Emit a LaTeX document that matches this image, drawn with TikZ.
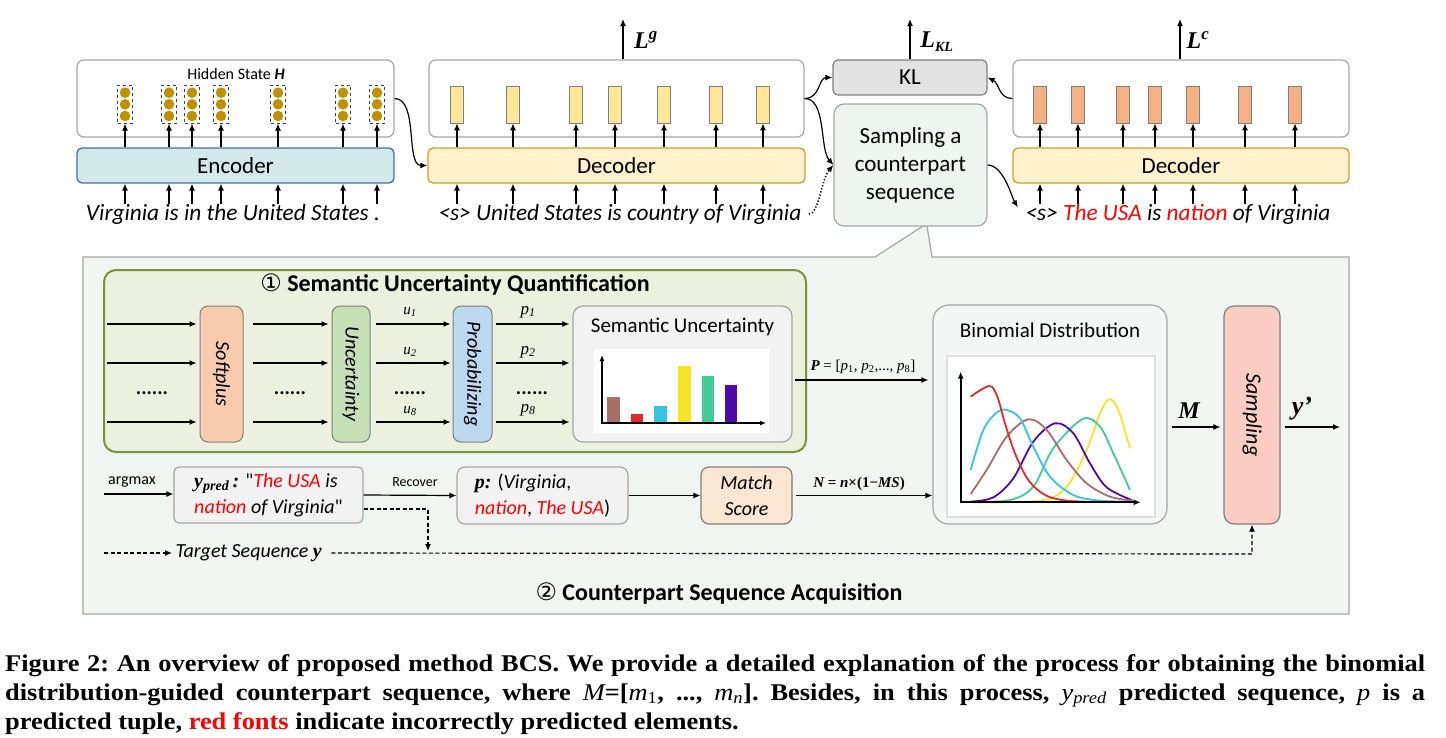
\documentclass[tikz,border=0pt]{standalone}
\usepackage{fontspec}
\setmainfont{Carlito}[Ligatures=TeXOff]
\newfontfamily\tnr{Liberation Serif}
\newfontfamily\capf{Liberation Serif}[FakeStretch=1.1]
\newfontfamily\djv{DejaVu Sans}
\usetikzlibrary{arrows.meta,calc}
\definecolor{encfill}{HTML}{D3E9E9}
\definecolor{encdraw}{HTML}{4A6E9E}
\definecolor{decfill}{HTML}{FFF2CC}
\definecolor{decdraw}{HTML}{C9A227}
\definecolor{gold}{HTML}{BF9000}
\definecolor{barY}{HTML}{FFE699}
\definecolor{barO}{HTML}{F4B183}
\definecolor{klfill}{HTML}{E2E2E2}
\definecolor{panel}{HTML}{F0F5F1}
\definecolor{sampfill}{HTML}{EEF5F1}
\definecolor{greenfill}{HTML}{EBF1DE}
\definecolor{greendraw}{HTML}{77933C}
\definecolor{softfill}{HTML}{F8CBAD}
\definecolor{uncfill}{HTML}{C5E0B4}
\definecolor{probfill}{HTML}{BDD7EE}
\definecolor{lgray}{HTML}{F2F2F2}
\definecolor{binfill}{HTML}{F3F6F4}
\definecolor{bord}{HTML}{A6A6A6}
\definecolor{dbord}{HTML}{7F7F7F}
\definecolor{sampR}{HTML}{FBCCC3}
\definecolor{matchfill}{HTML}{FAE6D2}
\definecolor{red1}{HTML}{FF0000}
\definecolor{cBrown}{HTML}{A66F69}
\definecolor{cRed}{HTML}{E02A2A}
\definecolor{cCyan}{HTML}{33C6DE}
\definecolor{cYellow}{HTML}{F4E526}
\definecolor{cGreen}{HTML}{40CC98}
\definecolor{cPurple}{HTML}{4E0AA6}
\tikzset{
  arr/.style={-{Latex[length=7pt,width=6pt]}, line width=1.2pt},
  dasharr/.style={-{Latex[length=7pt,width=6pt]}, line width=1.2pt, dash pattern=on 4pt off 2.5pt},
  outbox/.style={draw=bord, fill=white, rounded corners=7pt, line width=1.2pt, inner sep=0pt},
  modbox/.style={rounded corners=5pt, line width=1.3pt, inner sep=0pt, font=\fontsize{23}{28}\selectfont},
  vbox/.style={draw=dbord, rounded corners=8pt, line width=1pt, inner sep=0pt},
  vtext/.style={rotate=-90, font=\fontsize{20}{24}\selectfont\itshape},
  bar/.style={draw=dbord, line width=0.8pt, minimum width=13pt, minimum height=37pt, inner sep=0pt},
  sent/.style={font=\fontsize{23.3}{27}\selectfont\itshape},
  lbl/.style={font=\fontsize{20}{26}\selectfont},
  mlbl/.style={font=\tnr\fontsize{15}{18}\selectfont},
  loss/.style={font=\tnr\fontsize{24}{26}\selectfont\bfseries\itshape},
  ttl/.style={font=\fontsize{21}{24}\selectfont},
  sect/.style={font=\fontsize{24}{28}\selectfont\bfseries},
  captxt/.style={anchor=base west, inner sep=0pt, font=\capf\fontsize{24}{28}\selectfont\bfseries\frenchspacing},
  curve/.style={line width=1.8pt, smooth, tension=0.55}
}
\begin{document}
\begin{tikzpicture}[x=1pt,y=-1pt]
\useasboundingbox (0,0) rectangle (1446,737);
\fill[white] (0,0) rectangle (1446,737);

% ---------- lower panel with callout ----------
\path[draw=bord, fill=panel, line width=1.2pt] (83,257) -- (875,257) -- (923,226) -- (927,226) -- (932,257) -- (1349,257) -- (1349,614) -- (83,614) -- cycle;

% ---------- encoder ----------
\node[outbox, minimum width=317pt, minimum height=77pt] (encH) at (235.5,98.5) {};
\node[font=\fontsize{16}{18}\selectfont] (hs) at (236,74) {Hidden State \textbf{\textit{H}}};
\node[modbox, draw=encdraw, fill=encfill, minimum width=317pt, minimum height=35pt] (enc) at (235.5,165.5) {Encoder};
\node[sent] (s1) at (233,214) {Virginia is in the United States .};
\foreach \x [count=\i] in {125,169,192,221,278,343,377}{
  \node[draw=black!75, dashed, line width=0.6pt, minimum width=15pt, minimum height=38pt, inner sep=0pt] (h\i) at (\x,104.3) {};
  \foreach \yy in {92.7,104.3,116} \fill[gold] (\x,\yy) circle[radius=5.3pt];
  \draw[arr] (\x,204) -- (enc.south -| h\i);
  \draw[arr] (enc.north -| h\i) -- (h\i.south);
}

% ---------- decoder 1 ----------
\node[outbox, minimum width=375pt, minimum height=77pt] (d1H) at (616.5,98.5) {};
\node[modbox, draw=decdraw, fill=decfill, minimum width=377pt, minimum height=35pt] (d1) at (616.5,165.5) {Decoder};
\node[sent] (s2) at (620,214) {<s> United States is country of Virginia};
\foreach \x [count=\i] in {457,513,576,615,664,716,763}{
  \node[bar, fill=barY] (g\i) at (\x,104.5) {};
  \draw[arr] (d1.north -| g\i) -- (g\i.south);
  \draw[arr] (\x,204) -- (d1.south -| g\i);
}
\coordinate (lg) at (623,19);
\draw[arr] (d1H.north -| lg) -- (lg);
\node[loss] at (646,40) {L\textsuperscript{g}};

% ---------- KL and sampling ----------
\node[draw=dbord, fill=klfill, rounded corners=5pt, line width=1.2pt, minimum width=154pt, minimum height=35pt, font=\fontsize{23}{28}\selectfont] (KL) at (910,77.5) {KL};
\coordinate (lkl) at (910,19);
\draw[arr] (KL.north) -- (lkl);
\node[loss] at (937,42) {L\textsubscript{\fontsize{14}{14}\selectfont KL}};
\node[draw=bord, fill=sampfill, rounded corners=10pt, line width=1.2pt, minimum width=153pt, minimum height=122pt, align=center, font=\fontsize{23}{28}\selectfont] (samp) at (910.5,165) {Sampling a\\counterpart\\sequence};

% ---------- decoder 2 ----------
\node[outbox, minimum width=336pt, minimum height=77pt] (d2H) at (1181,98.5) {};
\node[modbox, draw=decdraw, fill=decfill, minimum width=336pt, minimum height=35pt] (d2) at (1181,165.5) {Decoder};
\node[sent] (s3) at (1178,214) {<s> \textcolor{red1}{The USA} is \textcolor{red1}{nation} of Virginia};
\foreach \x [count=\i] in {1040,1078,1123,1155,1193,1245,1295}{
  \node[bar, fill=barO] (o\i) at (\x,104.5) {};
  \draw[arr] (d2.north -| o\i) -- (o\i.south);
  \draw[arr] (\x,204) -- (d2.south -| o\i);
}
\coordinate (lc) at (1180,19);
\draw[arr] (d2H.north -| lc) -- (lc);
\node[loss] at (1198,40) {L\textsuperscript{c}};

% ---------- top connectors ----------
\draw[arr] (encH.east) .. controls +(24,0) and +(-22,0) .. (d1.west);
\draw[arr] (d1H.east) .. controls +(16,0) and +(-14,0) .. (KL.west);
\draw[arr] (d1H.east) .. controls +(22,0) and +(-14,-16) .. (samp.west);
\draw[arr, dotted, line width=1.6pt, shorten <=4pt] (s2.east) .. controls +(14,0) and +(-12,14) .. (samp.west);
\draw[arr, shorten >=8pt] (samp.east) .. controls +(16,0) and +(-10,-16) .. (s3.west);
\draw[arr] (d2H.west) .. controls +(-14,0) and +(12,6) .. (KL.east);

% ---------- semantic uncertainty quantification ----------
\node[draw=greendraw, fill=greenfill, rounded corners=12pt, line width=2pt, minimum width=702pt, minimum height=182pt] (sq) at (455,361) {};
\node[sect] (sqt) at (455,285) {{\djv\mdseries ①} Semantic Uncertainty Quantification};

\node[vbox, fill=softfill, minimum width=43pt, minimum height=136pt] (soft) at (221.5,374) {};
\node[vtext] at (soft) {Softplus};
\node[vbox, fill=uncfill, minimum width=38pt, minimum height=136pt] (unc) at (351,374) {};
\node[vtext] at (unc) {Uncertainty};
\node[vbox, fill=probfill, minimum width=39pt, minimum height=136pt] (prob) at (472.5,374) {};
\node[vtext] at (prob) {Probabilizing};
\node[draw=bord, fill=lgray, rounded corners=10pt, line width=1.2pt, minimum width=219pt, minimum height=136pt] (su) at (682.5,374) {};
\node[ttl] at (682.5,327) {Semantic Uncertainty};

\coordinate (r1) at (0,324);
\coordinate (r2) at (0,363);
\coordinate (r3) at (0,422);
\foreach \r in {r1,r2,r3}{
  \draw[arr, shorten >=3pt] (107,0 |- \r) -- (soft.west |- \r);
  \draw[arr, shorten <=9pt, shorten >=3pt] (soft.east |- \r) -- (unc.west |- \r);
  \draw[arr, shorten <=5pt, shorten >=2pt] (unc.east |- \r) -- (prob.west |- \r);
  \draw[arr, shorten <=3pt, shorten >=3pt] (prob.east |- \r) -- (su.west |- \r);
}
\foreach \x in {152,290,410,532}
  \node[font=\fontsize{20}{24}\selectfont\bfseries] at (\x,393) {......};
\node[mlbl] at (410,312) {\itshape u\textsubscript{1}};
\node[mlbl] at (410,352) {\itshape u\textsubscript{2}};
\node[mlbl] at (410,411) {\itshape u\textsubscript{8}};
\node[mlbl, font=\tnr\fontsize{17}{18}\selectfont] at (528,312) {\itshape p\textsubscript{1}};
\node[mlbl, font=\tnr\fontsize{17}{18}\selectfont] at (528,352) {\itshape p\textsubscript{2}};
\node[mlbl, font=\tnr\fontsize{17}{18}\selectfont] at (528,410) {\itshape p\textsubscript{8}};

% bar chart
\fill[white] (594,349) rectangle (769,433);
\fill[cBrown] (607,397) rectangle (620,423);
\fill[cRed] (631,414) rectangle (643,423);
\fill[cCyan] (654,406) rectangle (667,423);
\fill[cYellow] (678,366) rectangle (691,423);
\fill[cGreen] (702,376) rectangle (714,423);
\fill[cPurple] (725,385) rectangle (737,423);
\draw[line width=1.6pt, -{Latex[length=6pt,width=5pt]}] (602,423) -- (602,355);
\draw[line width=1.6pt, -{Latex[length=6pt,width=5pt]}] (601,423) -- (766,423);

% ---------- binomial distribution ----------
\node[draw=bord, fill=binfill, rounded corners=16pt, line width=1.2pt, minimum width=234pt, minimum height=219pt] (bin) at (1050,414.5) {};
\node[ttl] at (1050,330) {Binomial Distribution};
\path[draw=black!12, fill=white, line width=1.5pt] (947,356) rectangle (1155,517);
\begin{scope}[shift={(900,290)}, x=0.3333pt, y=-0.3333pt]
  \draw[curve, cYellow] plot coordinates {(212,637) (420,632) (500,590) (560,480) (600,370) (628,328) (655,360) (690,475)};
  \draw[curve, cGreen] plot coordinates {(212,636) (330,630) (400,590) (460,475) (548,387) (600,410) (640,490) (690,600)};
  \draw[curve, cPurple] plot coordinates {(212,635) (280,622) (340,565) (400,455) (465,400) (520,430) (570,520) (620,592) (695,630)};
  \draw[curve, cBrown] plot coordinates {(212,612) (260,540) (320,440) (385,388) (440,420) (500,510) (560,580) (630,620) (700,632)};
  \draw[curve, cCyan] plot coordinates {(212,540) (250,420) (290,368) (320,360) (360,385) (400,470) (450,560) (520,615) (600,632) (700,635)};
  \draw[curve, cRed] plot coordinates {(212,320) (268,288) (292,320) (315,400) (345,490) (385,570) (435,615) (500,632) (600,636)};
  \draw[line width=2pt, -{Latex[length=7pt,width=6pt]}] (182,637) -- (182,245);
  \draw[line width=2pt, -{Latex[length=7pt,width=6pt]}] (180,637) -- (722,637);
\end{scope}

% P arrow
\coordinate (pa) at (0,380);
\draw[arr, shorten <=2pt, shorten >=4pt] (su.east |- pa) -- (bin.west |- pa);
\node[mlbl] at (863,367) {{\bfseries\itshape P} = [\textit{p}\textsubscript{1}, \textit{p}\textsubscript{2},..., \textit{p}\textsubscript{8}]};

% ---------- sampling ----------
\node[vbox, draw=dbord, fill=sampR, rounded corners=10pt, line width=1.2pt, minimum width=56pt, minimum height=218pt] (sr) at (1252,415) {};
\node[rotate=-90, font=\fontsize{22}{24}\selectfont\itshape] at (sr) {Sampling};
\coordinate (ma) at (0,427);
\draw[arr, shorten <=4pt, shorten >=3pt] (bin.east |- ma) -- (sr.west |- ma);
\node[loss] at (1189,411) {M};
\coordinate (yo) at (1340,427);
\draw[arr, shorten <=4pt] (sr.east |- yo) -- (yo);
\node[loss, font=\tnr\fontsize{26}{28}\selectfont\bfseries\itshape] at (1302,409) {y’};

% ---------- counterpart sequence acquisition ----------
\node[draw=bord, fill=lgray, rounded corners=5pt, line width=1.2pt, minimum width=189pt, minimum height=56pt, align=left, lbl] (yp) at (268.5,495) {{\tnr\bfseries\itshape y\textsubscript{pred}\,:} "\textcolor{red1}{\itshape The USA} \textit{is}\\\textcolor{red1}{\itshape nation} \textit{of Virginia}"};
\node[draw=bord, fill=lgray, rounded corners=8pt, line width=1.2pt, minimum width=171pt, minimum height=57pt, align=left, lbl] (pb) at (542.5,495.5) {{\tnr\bfseries\itshape p:} (\textit{Virginia},\\\textcolor{red1}{\itshape nation}, \textcolor{red1}{\itshape The USA})};
\node[draw=dbord, fill=matchfill, rounded corners=8pt, line width=1.2pt, minimum width=91pt, minimum height=57pt, align=center, lbl, font=\fontsize{20}{26}\selectfont\itshape] (ms) at (746.5,495.5) {Match\\Score};

\coordinate (am) at (104,494);
\draw[arr] (am) -- (yp.west |- am);
\node[font=\fontsize{16}{18}\selectfont] at (132,482) {argmax};
\draw[arr] (yp.east) -- (pb.west);
\node[font=\fontsize{14}{16}\selectfont] at (415,482) {Recover};
\draw[arr] (pb.east) -- (ms.west);
\draw[arr, shorten <=3pt] (ms.east) -- (bin.west |- ms.east);
\node[mlbl, font=\tnr\fontsize{15}{18}\selectfont\bfseries] at (859,484) {\itshape N \upshape = \itshape n\upshape ×(1−\itshape MS\upshape)};

\coordinate (jn) at (428,553);
\draw[dasharr, shorten >=2pt] (yp.east |- 0,509) -| (jn);
\coordinate (ts) at (104,553);
\node[anchor=west, font=\fontsize{20}{24}\selectfont\itshape] (tg) at (172,553) {Target Sequence {\tnr\bfseries y}};
\draw[dasharr] (ts) -- (tg.west);
\draw[dasharr, shorten <=6pt] (tg.east) -- (sr.south |- 0,554) -- (sr.south);

\node[sect] (cta) at (719,594) {{\djv\mdseries ②} Counterpart Sequence Acquisition};

% ---------- caption ----------
\node[captxt] at (5,671) {\makebox[1420pt][s]{Figure 2: An overview of proposed method BCS. We provide a detailed explanation of the process for obtaining the binomial}};
\node[captxt] at (5,700) {\makebox[1420pt][s]{distribution-guided counterpart sequence, where {\mdseries\itshape M}=[{\mdseries\itshape m}\textsubscript{\mdseries 1}, ..., {\mdseries\itshape m}\textsubscript{\mdseries\itshape n}]. Besides, in this process, {\mdseries\itshape y\textsubscript{pred}} predicted sequence, {\mdseries\itshape p} is a}};
\node[captxt] at (5,729) {predicted tuple, \textcolor{red1}{red fonts} indicate incorrectly predicted elements.};
\end{tikzpicture}
\end{document}
